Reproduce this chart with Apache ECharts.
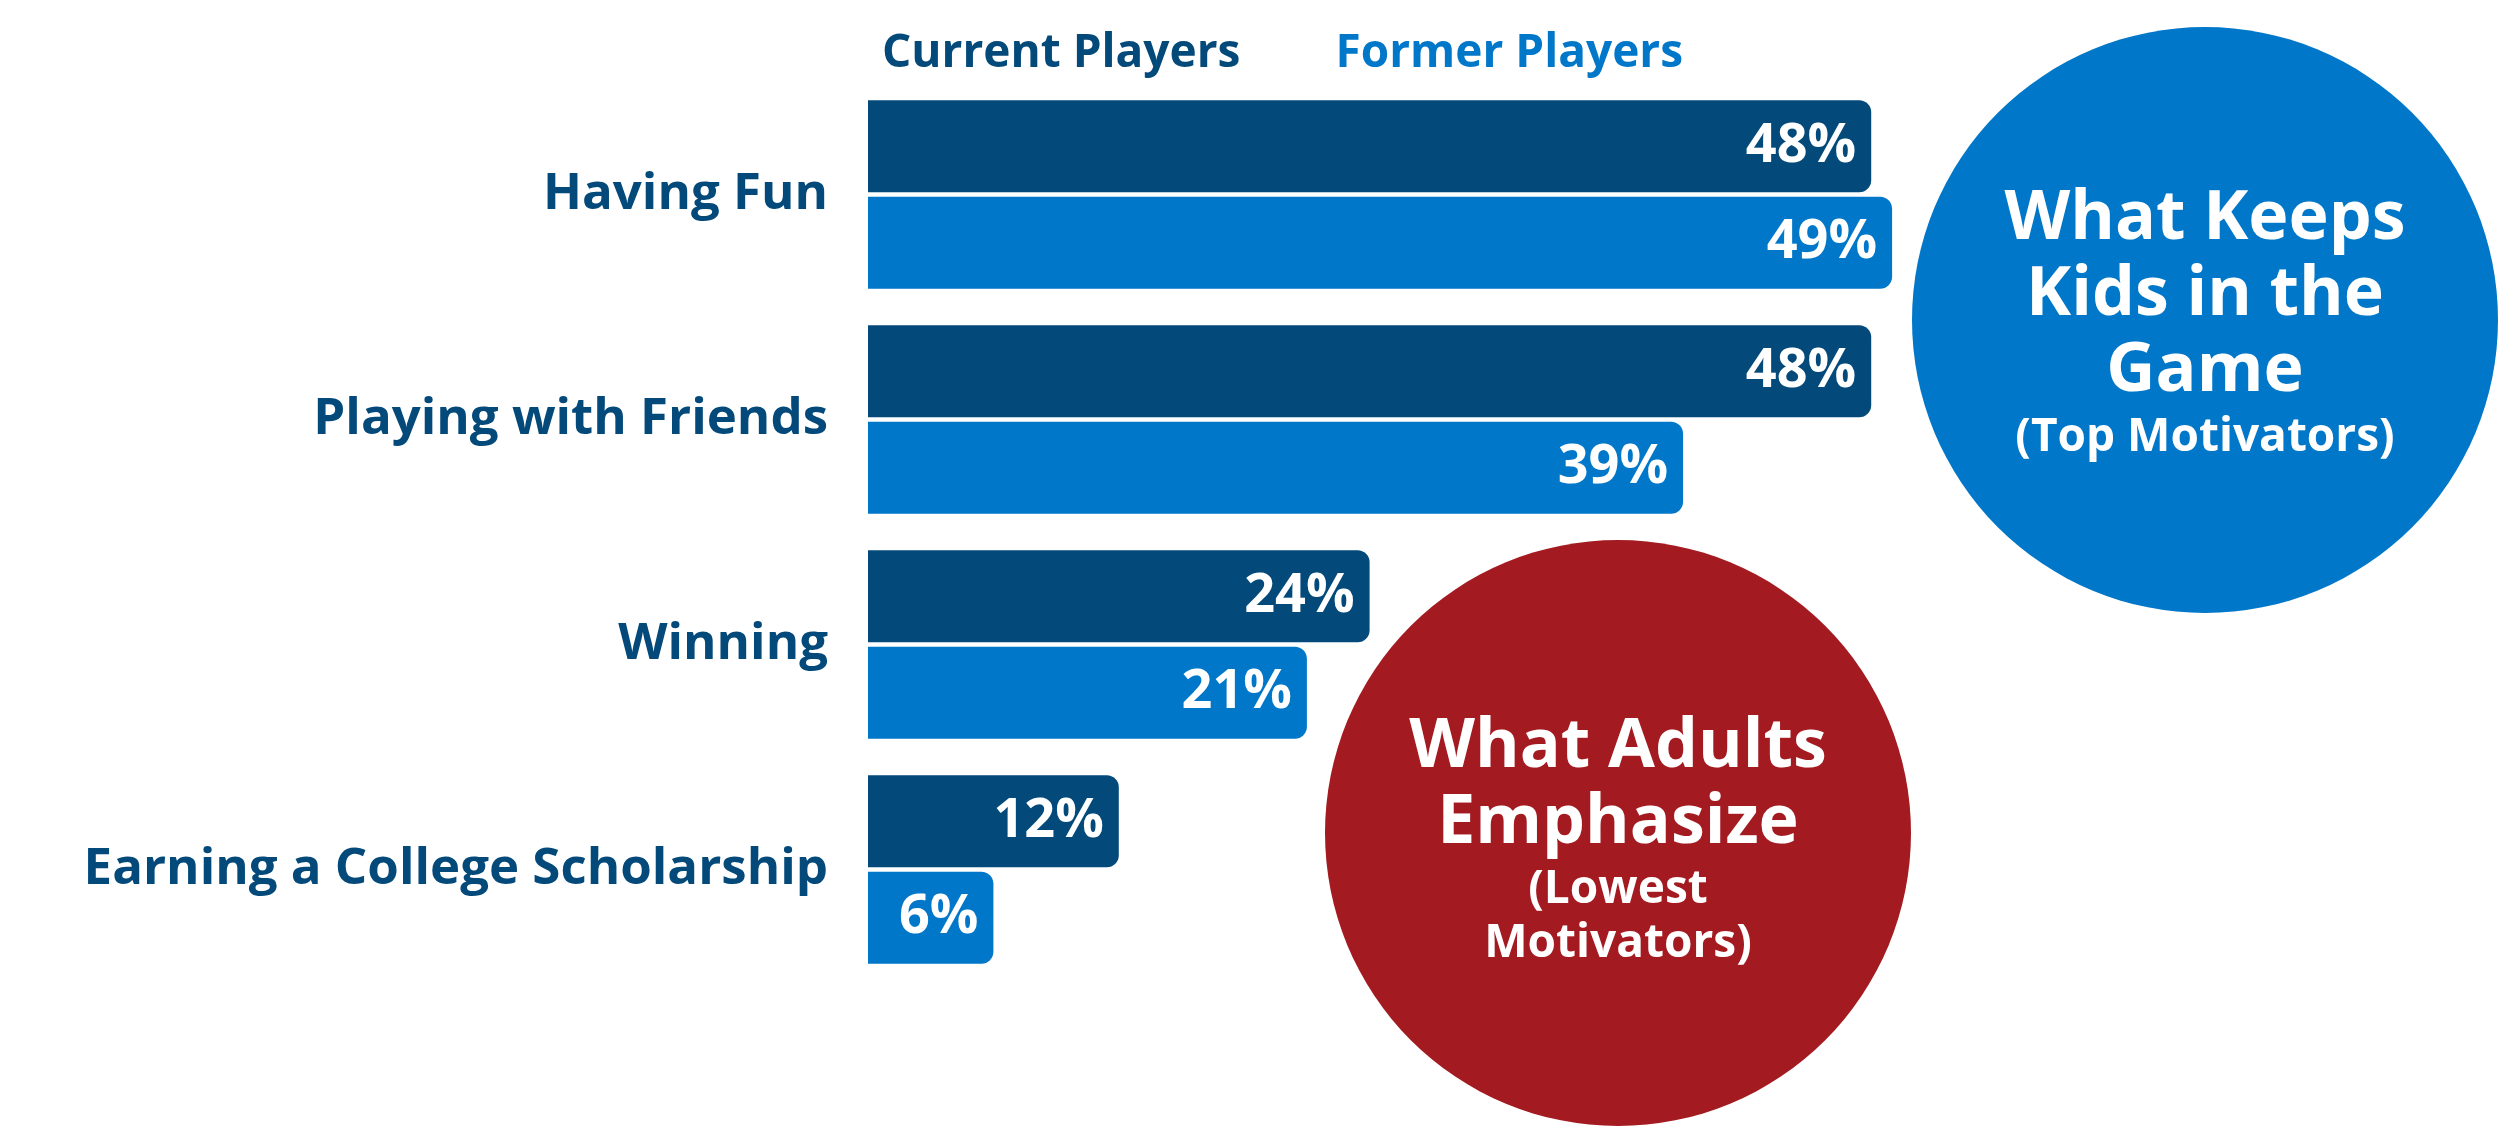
<!DOCTYPE html>
<html>
<head>
<meta charset="utf-8">
<script src="https://cdn.jsdelivr.net/npm/echarts@6/dist/echarts.min.js"></script>
<style>
html,body{margin:0;padding:0;background:#fff;}
#c{width:2500px;height:1129px;}
</style>
</head>
<body>
<div id="c"></div>
<script>
const categories = ['Having Fun', 'Playing with Friends', 'Winning', 'Earning a College Scholarship'];
const currentPlayers = [48, 48, 24, 12];
const formerPlayers = [49, 39, 21, 6];
const seriesNames = ['Current Players', 'Former Players'];
const topCircleLines = ['What Keeps', 'Kids in the', 'Game', '(Top Motivators)'];
const lowCircleLines = ['What Adults', 'Emphasize', '(Lowest', 'Motivators)'];

const NAVY = '#03497A';
const BLUE = '#0077C8';
const RED = '#A31A20';
const FONT = 'Open Sans';

const chart = echarts.init(document.getElementById('c'));

function lineTexts(lines, cx, ys, sizes) {
  return lines.map((t, i) => ({
    type: 'text',
    x: cx, y: ys[i], z: 10,
    style: {
      text: t, fill: '#fff', fontFamily: FONT, fontWeight: 'bold',
      fontSize: sizes[i], align: 'center', verticalAlign: 'middle'
    }
  }));
}

chart.setOption({
  backgroundColor: '#fff',
  animation: false,
  legend: {
    left: 872, top: 26,
    icon: 'none', itemWidth: 0, itemHeight: 0, itemGap: 90,
    selectedMode: false,
    textStyle: { fontFamily: FONT, fontWeight: 'bold', fontSize: 46, padding: 0 },
    data: [
      { name: seriesNames[0], textStyle: { color: NAVY } },
      { name: seriesNames[1], textStyle: { color: BLUE } }
    ]
  },
  grid: { left: 868, top: 82, width: 1045, height: 900 },
  xAxis: { type: 'value', min: 0, max: 50, show: false },
  yAxis: {
    type: 'category', data: categories, inverse: true,
    axisLine: { show: false }, axisTick: { show: false }, splitLine: { show: false },
    axisLabel: { color: NAVY, fontFamily: FONT, fontWeight: 'bold', fontSize: 51, margin: 40 }
  },
  series: [
    {
      name: seriesNames[0], type: 'bar', data: currentPlayers,
      barWidth: 92, barGap: '5%',
      itemStyle: { color: NAVY, borderRadius: [0, 12, 12, 0] },
      label: { show: true, position: 'insideRight', distance: 15, formatter: '{c}%',
        color: '#fff', fontFamily: FONT, fontWeight: 'bold', fontSize: 54 }
    },
    {
      name: seriesNames[1], type: 'bar', data: formerPlayers,
      barWidth: 92, barGap: '5%',
      itemStyle: { color: BLUE, borderRadius: [0, 12, 12, 0] },
      label: { show: true, position: 'insideRight', distance: 15, formatter: '{c}%',
        color: '#fff', fontFamily: FONT, fontWeight: 'bold', fontSize: 54 }
    }
  ],
  graphic: [
    { type: 'circle', shape: { cx: 2205, cy: 320, r: 293 }, style: { fill: BLUE }, z: 5 },
    { type: 'circle', shape: { cx: 1618, cy: 833, r: 293 }, style: { fill: RED }, z: 5 }
  ].concat(
    lineTexts(topCircleLines, 2205, [220, 296, 372, 438], [68, 68, 68, 46]),
    lineTexts(lowCircleLines, 1618, [748, 824, 890, 944], [68, 68, 46, 46])
  )
});
</script>
</body>
</html>
